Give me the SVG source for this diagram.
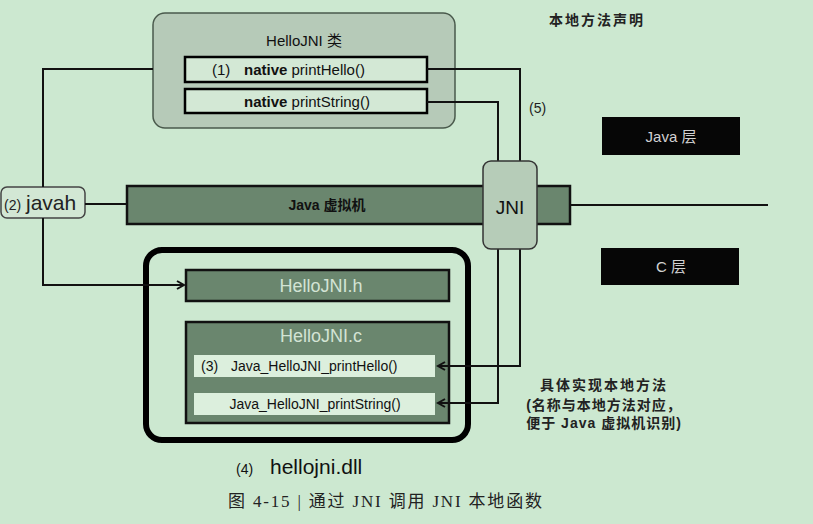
<svg xmlns="http://www.w3.org/2000/svg" width="813" height="524" viewBox="0 0 813 524">
<defs>
<marker id="arr" markerWidth="10" markerHeight="10" refX="8" refY="5" orient="auto" markerUnits="userSpaceOnUse">
<path d="M1,1 L8,5 L1,9" fill="none" stroke="#111" stroke-width="2"/>
</marker>
<style>
text{font-family:"Liberation Sans","Noto Sans CJK SC",sans-serif;}
.conn{fill:none;stroke:#111;stroke-width:2;}
.dark{fill:#6a866e;stroke:#111;stroke-width:2.5;}
.meth{fill:#d3e8d5;stroke:#000;stroke-width:2.5;}
.row{fill:#dcefdd;}
.layer{fill:#060606;}
.lt{fill:#d2d2d2;font-size:15px;text-anchor:middle;}
.note{font-size:14px;font-weight:bold;fill:#222;}
.ft{font-size:18px;text-anchor:middle;fill:#d3e3d4;}
</style>
</defs>
<rect width="813" height="524" fill="#cce8d0"/>

<g id="hellojni-class">
<rect x="153" y="13" width="302" height="115" rx="12" fill="#b6cab8" stroke="#4a5a4c" stroke-width="1.5"/>
<text x="304" y="46" font-size="15" text-anchor="middle" fill="#111">HelloJNI 类</text>
</g>
<g id="method-printHello">
<rect class="meth" x="185" y="57" width="242" height="25"/>
<text y="75" font-size="15" fill="#111"><tspan x="212">(1)</tspan><tspan x="244" font-weight="bold">native</tspan> printHello()</text>
</g>
<g id="method-printString">
<rect class="meth" x="185" y="89" width="242" height="24"/>
<text x="307" y="107" font-size="15" text-anchor="middle" fill="#111"><tspan font-weight="bold">native</tspan> printString()</text>
</g>

<g id="jvm">
<rect class="dark" x="127" y="186" width="443" height="38"/>
<text x="327" y="210" font-size="14" font-weight="bold" text-anchor="middle" fill="#111">Java 虚拟机</text>
</g>

<g id="javah">
<rect x="1" y="187" width="84" height="31" rx="6" fill="#d2e7d4" stroke="#444" stroke-width="1.5"/>
<text x="4" y="210" font-size="14" fill="#222">(2)</text>
<text x="26" y="210" font-size="21" fill="#222">javah</text>
</g>

<g id="dll">
<rect x="146" y="250" width="322" height="190" rx="16" fill="none" stroke="#000" stroke-width="6"/>
<text x="236" y="474" font-size="14" fill="#111">(4)</text>
<text x="270" y="474" font-size="21" fill="#111">hellojni.dll</text>
</g>

<g id="hellojni-h">
<rect class="dark" x="186" y="270" width="263" height="31"/>
<text class="ft" x="321" y="292">HelloJNI.h</text>
</g>

<g id="hellojni-c">
<rect class="dark" x="186" y="322" width="263" height="101"/>
<text class="ft" x="321" y="342">HelloJNI.c</text>
</g>
<g id="impl-printHello">
<rect class="row" x="194" y="355" width="241" height="22"/>
<text x="201" y="371" font-size="14" fill="#111">(3)</text>
<text x="231" y="371" font-size="14" fill="#111">Java_HelloJNI_printHello()</text>
</g>
<g id="impl-printString">
<rect class="row" x="194" y="393" width="241" height="22"/>
<text x="315" y="409" font-size="14" text-anchor="middle" fill="#111">Java_HelloJNI_printString()</text>
</g>

<g id="connectors">
<path class="conn" d="M427,69 H520 V366 H438" marker-end="url(#arr)"/>
<path class="conn" d="M427,102 H498 V403 H438" marker-end="url(#arr)"/>
<path class="conn" d="M153,69 H43 V187"/>
<path class="conn" d="M43,218 V285 H184" marker-end="url(#arr)"/>
<path class="conn" d="M85,204 H127"/>
<path class="conn" d="M570,205 H768"/>
</g>

<g id="jni">
<rect x="483" y="161" width="54" height="88" rx="8" fill="#b6ccb8" stroke="#333" stroke-width="1.5"/>
<text x="510" y="214" font-size="19" text-anchor="middle" fill="#111">JNI</text>
</g>

<g id="java-layer">
<rect class="layer" x="602" y="117" width="138" height="38"/>
<text class="lt" x="671" y="142">Java 层</text>
</g>
<g id="c-layer">
<rect class="layer" x="601" y="248" width="138" height="37"/>
<text class="lt" x="671" y="272">C 层</text>
</g>

<text class="note" x="549" y="25" font-size="14" letter-spacing="2">本地方法声明</text>
<text x="529" y="113" font-size="14" fill="#222">(5)</text>
<text class="note" x="604" y="390" text-anchor="middle" letter-spacing="2">具体实现本地方法</text>
<text class="note" x="604" y="410" text-anchor="middle" letter-spacing="1">(名称与本地方法对应，</text>
<text class="note" x="604" y="428" text-anchor="middle" letter-spacing="1">便于 Java 虚拟机识别)</text>

<text x="228" y="507" font-size="17" fill="#222" style="font-family:'Liberation Serif','Noto Sans CJK SC',serif" textLength="314">图 4-15 |  通过 JNI 调用 JNI 本地函数</text>
</svg>
